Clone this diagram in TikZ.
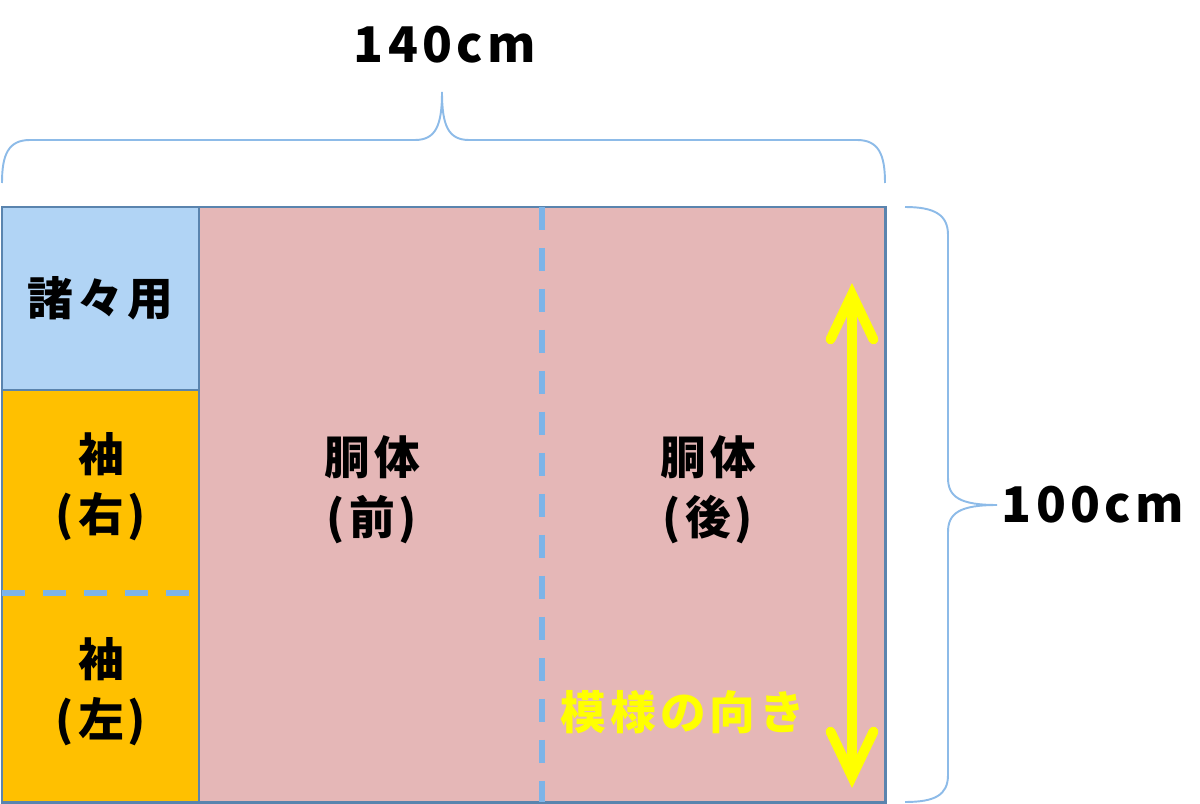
\documentclass[tikz,border=0pt]{standalone}
\usepackage{fontspec}
\usetikzlibrary{arrows.meta}
\newfontfamily\jpfont{Noto Sans CJK JP}[LetterSpace=9]
\definecolor{framec}{HTML}{5A84AE}
\definecolor{miscc}{HTML}{B1D4F5}
\definecolor{sleevec}{HTML}{FFC000}
\definecolor{bodyc}{HTML}{E5B7B7}
\definecolor{foldc}{HTML}{7DB4E8}
\definecolor{bracec}{HTML}{8DBBE8}
\definecolor{arrowc}{HTML}{FFFF00}
\tikzset{
  cell/.style={draw=framec,line width=1.7pt},
  fold/.style={foldc,line width=3.2pt,dash pattern=on 0.46cm off 0.36cm},
  brace/.style={bracec,line width=1.1pt},
  patarrow/.style={arrowc,line width=5.6pt,line cap=round,
    {Straight Barb[length=0.9cm,width=0.86cm,line cap=round]}-{Straight Barb[length=0.9cm,width=0.86cm,line cap=round]}},
  lbl/.style={align=center,font=\jpfont\bfseries\fontsize{26}{34}\selectfont},
  sizelbl/.style={font=\jpfont\bfseries\fontsize{28}{34}\selectfont}
}
\begin{document}
\begin{tikzpicture}[x=0.02cm,y=-0.02cm]
      \useasboundingbox (0,0) rectangle (1200,804);
      \draw[cell,fill=bodyc] (199,207) rectangle (885,802);
      \node[lbl] (front) at (372,490) {胴体\\(前)};
      \node[lbl] (back) at (708,490) {胴体\\(後)};
      \draw[cell,fill=miscc] (2,207) rectangle node[lbl] (misc) {諸々用} (199,390);
      \draw[cell,fill=sleevec] (2,390) rectangle (199,802);
      \node[lbl] (right) at (101,487) {袖\\(右)};
      \node[lbl] (left) at (101,692) {袖\\(左)};
      \draw[fold] (2,593) -- (199,593);
      \draw[fold] (542,207) -- (542,802);
      % pattern direction
      \coordinate (up) at (852,283);
      \coordinate (down) at (852,788);
      \draw[patarrow] (down) -- (up);
      \node[lbl,text=arrowc] (muki) at (683,712) {模様の向き};
      % size braces
      \draw[brace] (2,183) .. controls (2,155) and (8,140) .. (30,140) -- (415,140)
        .. controls (436,140) and (442,125) .. (442,92)
        .. controls (442,125) and (448,140) .. (469,140) -- (857,140)
        .. controls (879,140) and (885,155) .. (885,183);
      \draw[brace] (905,207) .. controls (935,207) and (948,215) .. (948,235) -- (948,478)
        .. controls (948,497) and (960,505) .. (997,505)
        .. controls (960,505) and (948,513) .. (948,532) -- (948,775)
        .. controls (948,795) and (935,802) .. (905,802);
      \node[sizelbl] (width) at (445,45) {140cm};
      \node[sizelbl] (height) at (1093,505) {100cm};
    \end{tikzpicture}
\end{document}
